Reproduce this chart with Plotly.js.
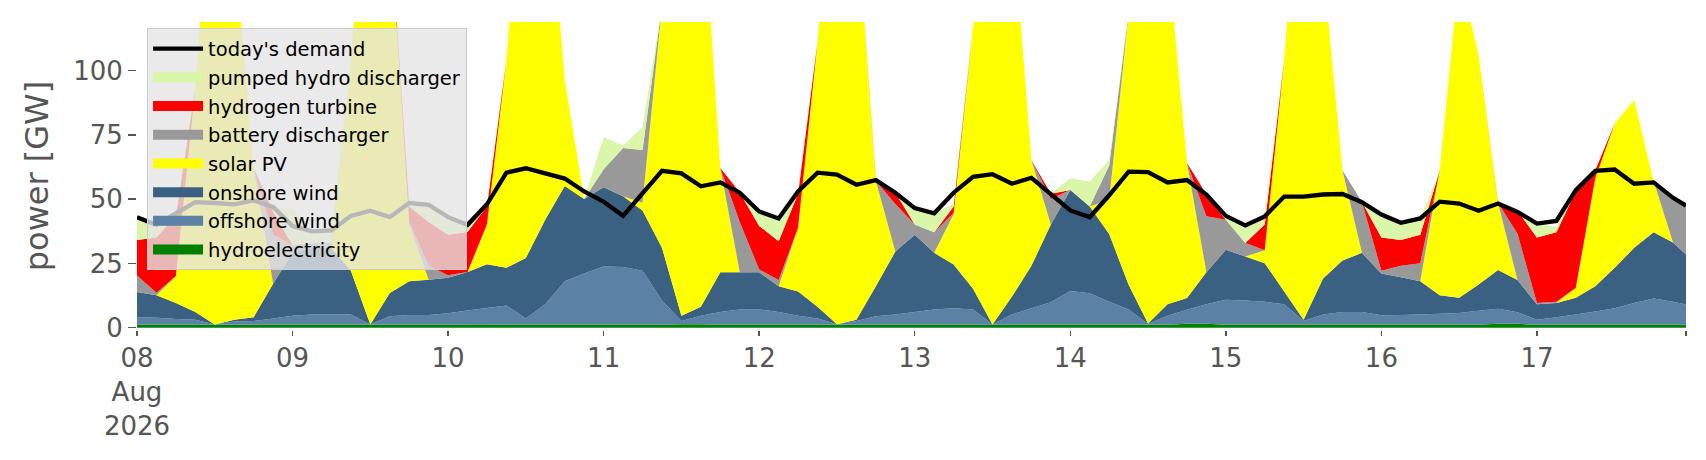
<!DOCTYPE html>
<html><head><meta charset="utf-8">
<script src="https://cdn.plot.ly/plotly-3.0.1.min.js"></script>
<style>body{margin:0;background:#fff}#chart{width:1706px;height:460px}</style>
</head><body><div id="chart"></div>
<script>
// hours since 2026-08-08 00:00
const hours = [0,3,6,9,12,15,18,21,24,27,30,33,36,39,42,45,48,51,54,57,60,63,66,69,72,75,78,81,84,87,90,93,96,99,102,105,108,111,114,117,120,123,126,129,132,135,138,141,144,147,150,153,156,159,162,165,168,171,174,177,180,183,186,189,192,195,198,201,204,207,210,213,216,219,222,225,228,231,234,237,239];
const hydro = [1.1,1.1,1.1,1.1,1.1,1.1,1.1,1.1,1.1,1.1,1.1,1.1,1.1,1.1,1.1,1.1,1.1,1.2,1.2,1.1,1.1,1.1,1.1,1.1,1.1,1.1,1.1,1.1,1.3,1.3,1.1,1.1,1.1,1.1,1.1,1.1,1.1,1.1,1.1,1.1,1.1,1.1,1.1,1.1,1.1,1.1,1.1,1.1,1.1,1.1,1.1,1.1,1.1,1.1,1.5,1.5,1.1,1.1,1.1,1.1,1.1,1.1,1.1,1.1,1.1,1.1,1.1,1.1,1.1,1.1,1.5,1.5,1.1,1.1,1.1,1.1,1.1,1.1,1.1,1.1,1.1];
const offshore = [3.0,2.8,2.3,2.0,0.1,1.3,1.5,2.5,3.5,4.0,4.0,4.0,0.1,3.3,3.8,3.8,4.5,5.5,6.5,7.5,2.5,8.0,17.0,20.0,22.7,22.5,21.0,9.5,1.3,3.3,5.0,6.0,6.0,5.0,3.5,2.5,0.2,1.5,3.3,4.0,5.0,6.0,6.5,6.0,0.1,4.0,6.5,8.8,13.2,12.3,9.0,6.0,0.3,3.5,5.5,7.6,9.8,9.5,9.0,8.0,1.5,4.0,5.0,5.0,3.7,3.8,4.0,4.3,4.6,5.5,5.9,4.5,2.0,3.0,4.0,5.2,6.5,8.5,10.3,9.0,7.9];
const onshore = [9.8,8.7,6.2,3.0,0,0.7,1.5,13.5,24.5,26,26,17,0,9.1,13.2,13.7,13.8,15,17,14.7,23.5,33,37,29,30.8,27.5,23.5,20.5,2,3.5,15.5,14.5,14.5,10,9.5,4.5,0,0.5,11.7,24.5,30,22,17,8,0,7,16.5,30.2,39.3,33.7,26.3,9.6,0.2,4.5,4.5,12.5,19.4,17.1,15,5,0.5,14,20,23,16.3,14.7,13,7.2,5.9,10.2,15,12.5,6,5.5,6.5,9.8,15.7,21.5,25.7,23,19.5];
const solar = [0,0,10.5,87,199,147,58,0,0,0,0,81.5,199,146.6,22,0,0,0,15.5,80.8,173,144,41,0,0,0,3,94,195.5,170,40.5,0,0,0,24.8,103,198.8,159,41,0,0,0,19.5,102,199,150,41,0,0,0,13.4,105.4,198.5,137,52.6,0,0,0,5,90,197,122,35,0,0,0,0,48.5,126.5,89.3,26.1,0,0,0,3.9,42,56.1,57.5,20,0,0];
const battery = [6.4,1.0,0,0,0,0,0,19,3,2,2,0,0,0,1,5.5,1,0,0,0,0,0,0,0,7,18.8,20.5,0,0,0,0,19.5,1,2.4,0,0,0,0,0,18.5,4,8,0.5,0,0,0,0,10,0,0,13.3,0,0,0,0,21.7,11.7,5.2,0,0,0,0,0,19.8,1,4.5,7,0,0,0,0,18,0.5,0.5,0,0,0,0,0,17.5,19.1];
const hydrogen = [13.8,21.5,23.5,0,0,0,0,9,0,0,0,0,0,0,6,17,15.7,15.5,7,0,0,0,0,0,0,0,0,0,0,0,0,11.5,17,15.1,13.2,0,0,0,0.4,4.5,0,0,2.5,0,0,0,0,2,0,0,0,0,0,0,0,8.6,0,0,10,0,0,0,0,0,13,10,11,0,0,0,0.3,9,25.5,27,37.6,3,0,0,0,0,0];
const pumpedHydro = [8.5,5.0,1.0,0,0,0,0,2,14,4.5,5,0,0,0,1.5,6.8,7,3,1,0,0,0,0,0,12.5,1,9,0,0,0,0,0,5.7,9,1,0,0,0,0,0,6.5,7.5,1,0,0,0,0,0,4.5,9.8,2,0,0,0,0,0,1.6,7,3.3,0,0,0,0,0,9,6.8,6.5,0,0,0,0,0,5.5,2,0.5,0,0,0,0,0,0];
const demand = [43,40,44.5,48.8,48.5,48,49.5,47,39.5,37.5,37.8,43.5,45.5,43,48.5,47.8,43,40,48,60.3,62,60,58,53,49,43.5,52,61,60,55,56.5,52.5,45.2,42.5,53,60.3,59.5,55.6,57.4,52.5,46.5,44.5,52.5,58.7,59.7,56,58.3,52,45.6,43,51.5,60.7,60.5,56.5,57.4,51.8,43.5,39.8,43.3,51,51,51.8,52,48.8,44,40.8,42.5,49,48.3,45.5,48.3,45,40.5,41.5,53.5,61,61.5,56,56.5,50.5,47.5];
const tickDays = ['2026-08-08','2026-08-09','2026-08-10','2026-08-11','2026-08-12','2026-08-13','2026-08-14','2026-08-15','2026-08-16','2026-08-17'];
const tickLabels = ['08<br>Aug<br>2026','09','10','11','12','13','14','15','16','17'];

const t0 = Date.UTC(2026,7,8,0,0,0);
function stamp(h){const d=new Date(t0+h*3600000);return d.toISOString().slice(0,19).replace('T',' ');}
const x = hours.map(stamp);
const xEnd = stamp(hours[hours.length-1]);

// bottom-to-top stacking order; last number = position in legend
const series = [
  ['hydroelectricity', hydro, '#008000', 8],
  ['offshore wind', offshore, '#5b82a4', 7],
  ['onshore wind', onshore, '#3b6182', 6],
  ['solar PV', solar, '#ffff00', 5],
  ['battery discharger', battery, '#999999', 4],
  ['hydrogen turbine', hydrogen, '#ff0000', 3],
  ['pumped hydro discharger', pumpedHydro, '#daf6a8', 2]
];
const traces = series.map(([name, y, c]) => ({
  type:'scatter', mode:'none', x:x, y:y, name:name, stackgroup:'gen',
  fillcolor:c, line:{width:0, color:c}, showlegend:false, hoverinfo:'skip'
}));
traces.push({type:'scatter', mode:'lines', x:x, y:demand, name:"today's demand",
  line:{color:'#000000', width:4.3}, legendgroup:'demand', legendrank:1, hoverinfo:'skip'});
// legend swatches (legend entries only, no data)
series.forEach(([name, y, c, rank]) => traces.push({
  type:'scatter', mode:'lines', x:[null], y:[null], name:name,
  line:{color:c, width:14}, legendgroup:name, legendrank:rank, hoverinfo:'skip'
}));

const layout = {
  width:1706, height:460,
  margin:{l:137, r:20, t:22, b:130},
  paper_bgcolor:'#ffffff', plot_bgcolor:'#ffffff',
  font:{family:'DejaVu Sans', color:'#555555'},
  showlegend:true,
  legend:{x:0.0065, y:0.979, xanchor:'left', yanchor:'top',
    bgcolor:'rgba(229,229,229,0.8)', bordercolor:'#cccccc', borderwidth:1,
    font:{size:19.5, color:'#000000', family:'DejaVu Sans'},
    traceorder:'grouped', tracegroupgap:0.35, itemwidth:50},
  xaxis:{type:'date', range:[x[0], xEnd], showgrid:false, zeroline:false, showline:false,
    tickmode:'array', tickvals:tickDays.concat([xEnd]), ticktext:tickLabels.concat(['']),
    ticks:'outside', ticklen:5, tickwidth:1.5, tickcolor:'#555555',
    tickfont:{size:26, color:'#555555'}, automargin:false},
  yaxis:{range:[-0.9,118.9], showgrid:false, zeroline:false, showline:false,
    tickmode:'array', tickvals:[0,25,50,75,100], ticktext:['0','25','50','75','100'],
    ticks:'outside', ticklen:8, tickwidth:1.5, tickcolor:'#555555',
    tickfont:{size:26, color:'#555555'},
    title:{text:'power [GW]', font:{size:32, color:'#555555'}, standoff:14}, automargin:false}
};
Plotly.newPlot('chart', traces, layout, {displayModeBar:false, staticPlot:true});
</script></body></html>
